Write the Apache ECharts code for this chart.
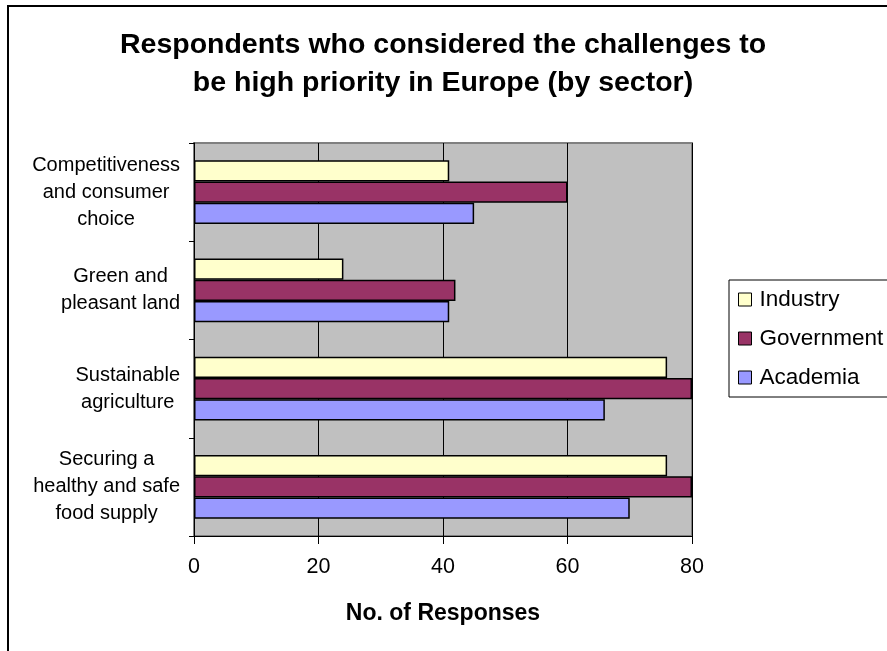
<!DOCTYPE html>
<html>
<head>
<meta charset="utf-8">
<script src="https://cdn.jsdelivr.net/npm/echarts@6/dist/echarts.min.js"></script>
<style>
html,body{margin:0;padding:0;background:#fff;}
#c{width:887px;height:651px;}
</style>
</head>
<body>
<div id="c"></div>
<script>
// Categories listed bottom-to-top (ECharts category y-axis starts at bottom)
var categories = [
  'Securing a\nhealthy and safe\nfood supply',
  'Sustainable\nagriculture',
  'Green and\npleasant land',
  'Competitiveness\nand consumer\nchoice'
];
var industry   = [76, 76, 24, 41];
var government = [80, 80, 42, 60];
var academia   = [70, 66, 41, 45];
var xTicks = [0, 20, 40, 60, 80];

var FONT = "'Liberation Sans', Arial, sans-serif";
var chart = echarts.init(document.getElementById('c'), null, {renderer: 'canvas'});

var option = {
  backgroundColor: '#ffffff',
  animation: false,
  title: {
    text: 'Respondents who considered the challenges to\nbe high priority in Europe (by sector)',
    left: 443,
    top: 26,
    padding: 0,
    textAlign: 'center',
    textStyle: {fontFamily: FONT, fontSize: 28.5, fontWeight: 'bold', color: '#000', lineHeight: 38}
  },
  graphic: [{
    type: 'polyline',
    shape: {points: [[8, 651], [8, 6], [887, 6]]},
    style: {stroke: '#000', lineWidth: 2, fill: null},
    silent: true
  }],
  legend: {
    orient: 'vertical',
    left: 729,
    top: 280,
    data: ['Industry', 'Government', 'Academia'],
    icon: 'rect',
    itemWidth: 13,
    itemHeight: 13,
    itemGap: 16,
    padding: [8, 30, 8, 9],
    borderColor: '#000',
    borderWidth: 1,
    backgroundColor: '#fff',
    itemStyle: {borderColor: '#000', borderWidth: 1},
    textStyle: {fontFamily: FONT, fontSize: 22.5, color: '#000', padding: [0, 0, 0, 3]}
  },
  grid: {
    left: 194, right: 195, top: 143, bottom: 115,
    show: true,
    backgroundColor: '#c0c0c0',
    borderColor: '#808080',
    borderWidth: 2
  },
  xAxis: {
    type: 'value',
    min: xTicks[0],
    max: xTicks[xTicks.length - 1],
    interval: 20,
    name: 'No. of Responses',
    nameLocation: 'middle',
    nameGap: 66,
    nameTextStyle: {fontFamily: FONT, fontSize: 23, fontWeight: 'bold', color: '#000'},
    axisLine: {show: true, lineStyle: {color: '#000', width: 1}},
    axisTick: {show: true, length: 8, lineStyle: {color: '#000'}},
    axisLabel: {fontFamily: FONT, fontSize: 21.5, color: '#000', margin: 20},
    splitLine: {show: true, lineStyle: {color: '#000', width: 1}}
  },
  yAxis: {
    type: 'category',
    data: categories,
    axisLine: {show: true, lineStyle: {color: '#000', width: 1}},
    axisTick: {show: true, length: 5, alignWithLabel: false, lineStyle: {color: '#000'}},
    axisLabel: {
      fontFamily: FONT, fontSize: 20, color: '#000', margin: 14, lineHeight: 27,
      formatter: function (v) {
        return v.split('\n').map(function (s) { return '{c|' + s + '}'; }).join('\n');
      },
      rich: {c: {align: 'center', fontFamily: FONT, fontSize: 20, color: '#000', lineHeight: 27}}
    },
    splitLine: {show: false}
  },
  series: [
    {name: 'Industry', type: 'bar', data: industry, barGap: '0%', barCategoryGap: '35%',
     itemStyle: {color: '#ffffcc', borderColor: '#000', borderWidth: 1.5}},
    {name: 'Government', type: 'bar', data: government, barGap: '0%', barCategoryGap: '35%',
     itemStyle: {color: '#993366', borderColor: '#000', borderWidth: 1.5}},
    {name: 'Academia', type: 'bar', data: academia, barGap: '0%', barCategoryGap: '35%',
     itemStyle: {color: '#9999ff', borderColor: '#000', borderWidth: 1.5}}
  ]
};
chart.setOption(option);
</script>
</body>
</html>
